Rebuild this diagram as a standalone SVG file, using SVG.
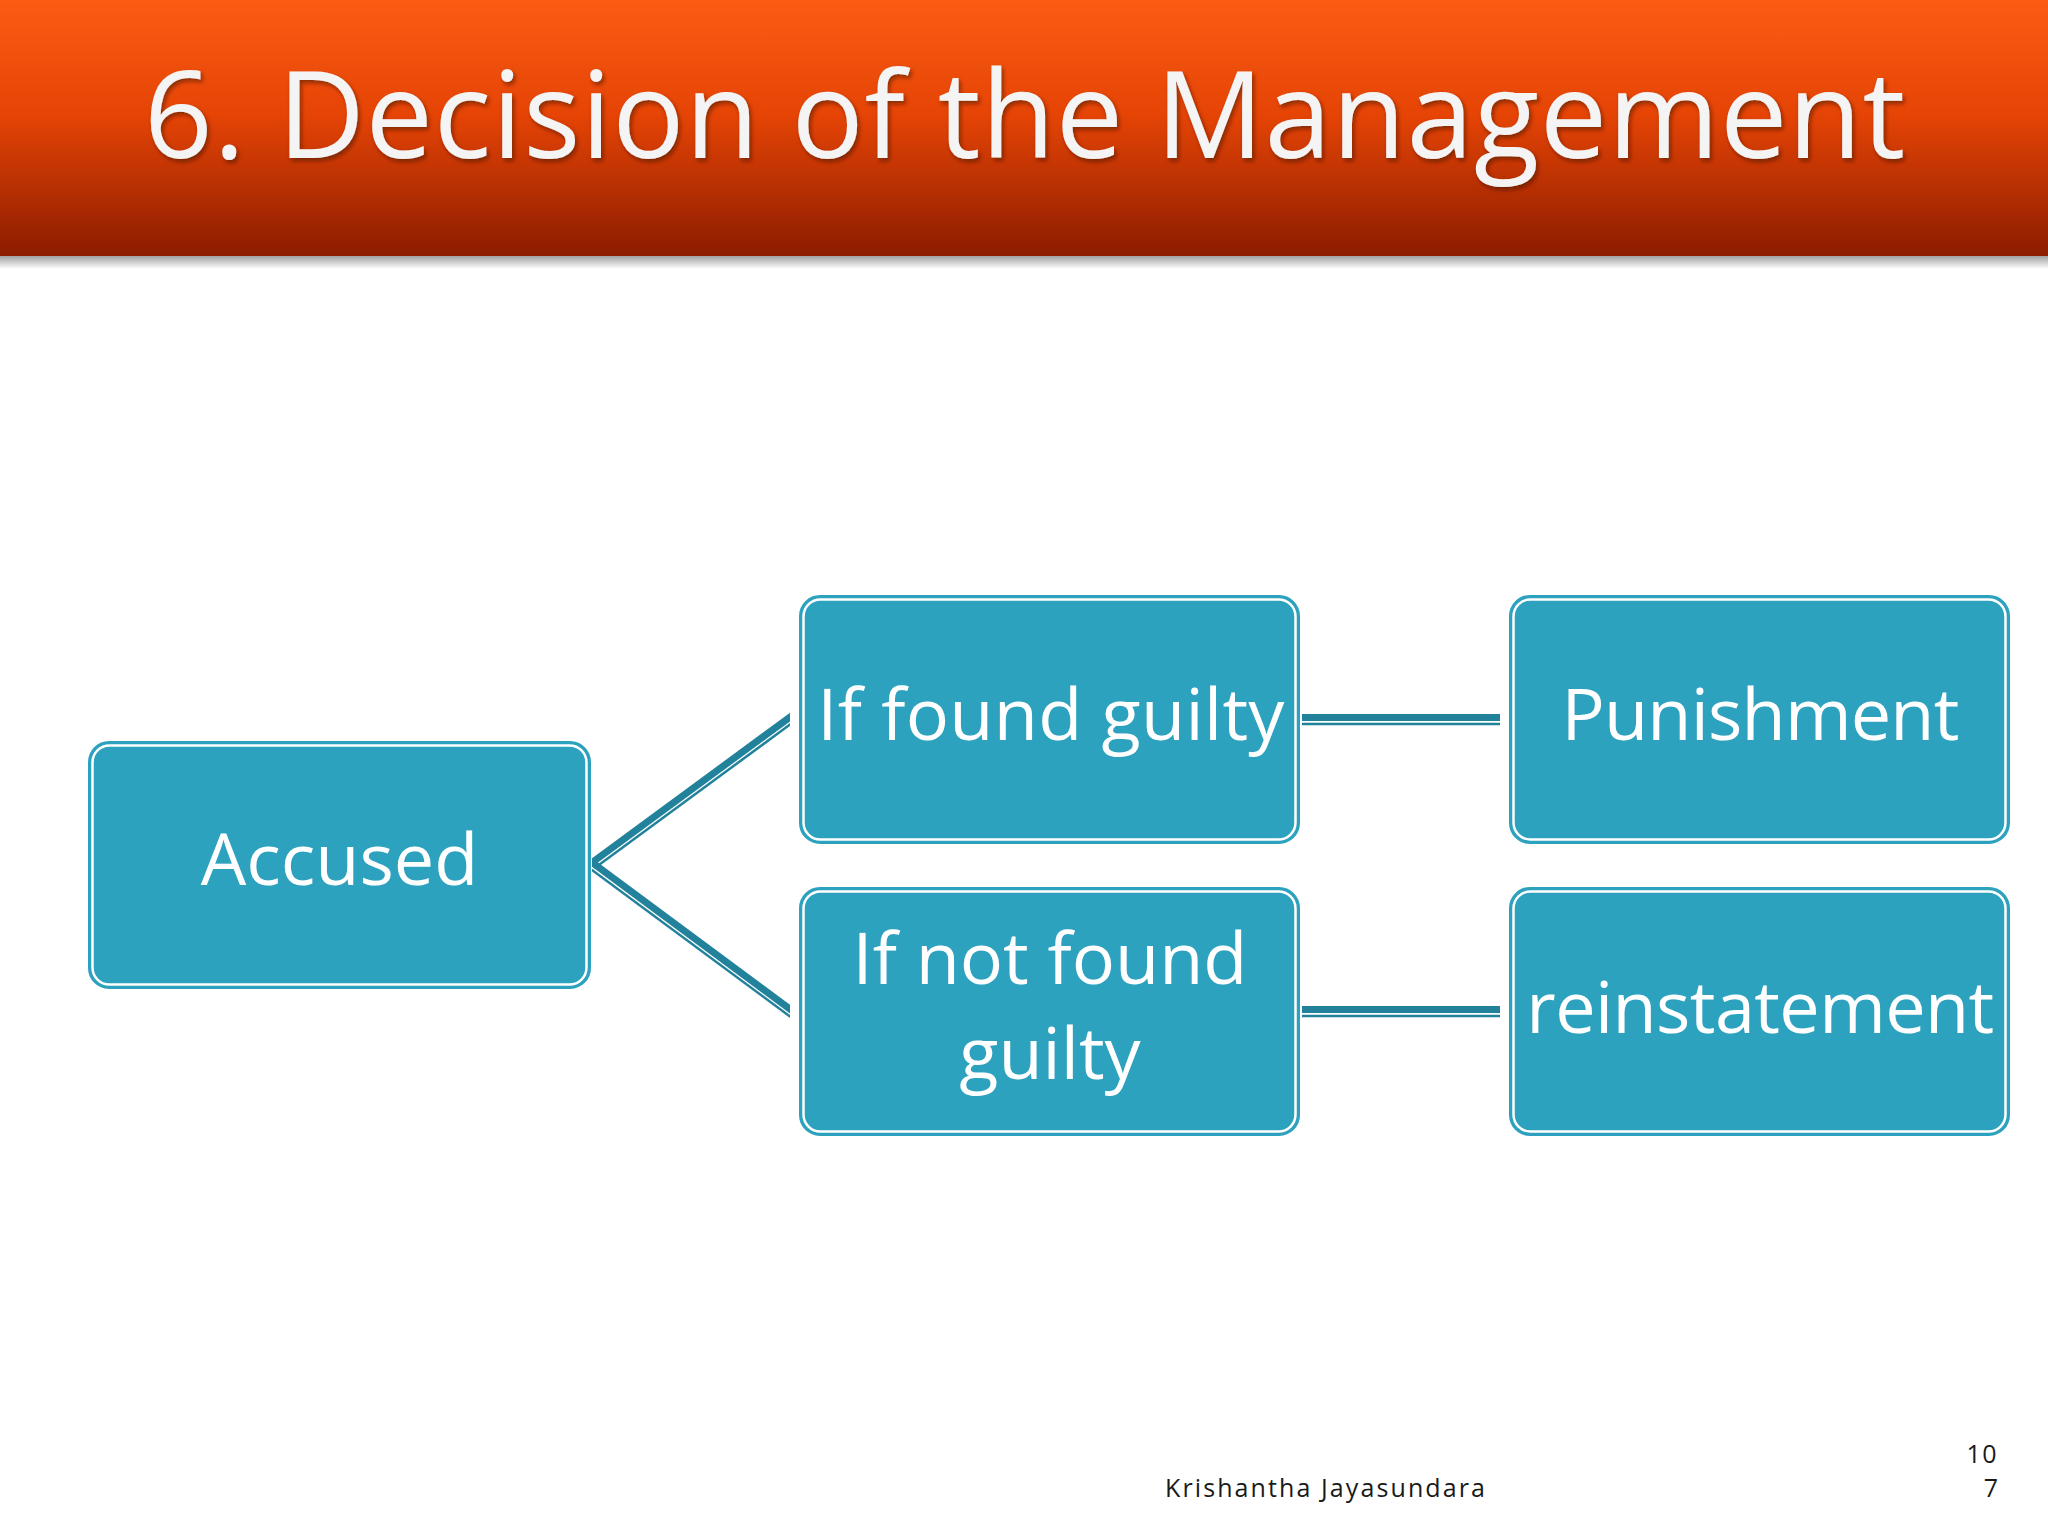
<svg xmlns="http://www.w3.org/2000/svg" width="2048" height="1536" viewBox="0 0 2048 1536">
  <defs>
    <linearGradient id="hdr" x1="0" y1="0" x2="0" y2="1">
      <stop offset="0" stop-color="#FB5C14"/>
      <stop offset="0.45" stop-color="#E54405"/>
      <stop offset="1" stop-color="#8C1C00"/>
    </linearGradient>
    <linearGradient id="hshadow" x1="0" y1="0" x2="0" y2="1">
      <stop offset="0" stop-color="#9a9a9a"/>
      <stop offset="1" stop-color="#ffffff"/>
    </linearGradient>
    <filter id="ts" x="-5%" y="-20%" width="110%" height="140%">
      <feDropShadow dx="2" dy="3" stdDeviation="2" flood-color="#3a1000" flood-opacity="0.55"/>
    </filter>
    <clipPath id="diagClip">
      <rect x="592" y="600" width="198" height="530"/>
    </clipPath>
    <style>
      .box { fill: #2DA2BF; stroke: #2DA2BF; stroke-width: 2; }
      .inner { fill: none; stroke: #ffffff; stroke-width: 2.5; }
      .lbl { font-family: "Open Sans", "DejaVu Sans", sans-serif; font-size: 72px; fill: #ffffff; text-anchor: middle; }
      .thick { stroke: #22829C; stroke-width: 7; fill: none; }
      .thin { stroke: #22829C; stroke-width: 2.5; fill: none; }
      .foot { font-family: "Open Sans", "DejaVu Sans", sans-serif; font-size: 25px; fill: #1a1a1a; }
    </style>
  </defs>

  <rect x="0" y="0" width="2048" height="1536" fill="#ffffff"/>

  <g id="header">
    <rect x="0" y="255" width="2048" height="14" fill="url(#hshadow)"/>
    <rect x="0" y="0" width="2048" height="256" fill="url(#hdr)"/>
    <text x="144" y="158" font-family="Open Sans, DejaVu Sans, sans-serif" font-size="120" letter-spacing="0.8" fill="#F4F4F4" filter="url(#ts)">6. Decision of the Management</text>
  </g>

  <g id="connectors">
    <g clip-path="url(#diagClip)">
      <g transform="translate(592,865) rotate(-36.3)">
        <line class="thick" x1="0" y1="-2" x2="260" y2="-2"/>
        <line class="thin" x1="0" y1="4" x2="260" y2="4"/>
      </g>
      <g transform="translate(592,865) rotate(36.5)">
        <line class="thick" x1="0" y1="-2" x2="260" y2="-2"/>
        <line class="thin" x1="0" y1="4" x2="260" y2="4"/>
      </g>
    </g>
    <line class="thick" x1="1302" y1="717.5" x2="1500" y2="717.5"/>
    <line class="thin" x1="1302" y1="724" x2="1500" y2="724"/>
    <line class="thick" x1="1302" y1="1009.5" x2="1500" y2="1009.5"/>
    <line class="thin" x1="1302" y1="1016" x2="1500" y2="1016"/>
  </g>

  <g id="node-accused">
    <rect class="box" x="89" y="742" width="501" height="246" rx="20"/>
    <rect class="inner" x="92.5" y="745.5" width="494" height="239" rx="17"/>
    <text class="lbl" x="339.5" y="885">Accused</text>
  </g>

  <g id="node-found-guilty">
    <rect class="box" x="800" y="596" width="499" height="247" rx="20"/>
    <rect class="inner" x="803.5" y="599.5" width="492" height="240" rx="17"/>
    <text class="lbl" x="1051" y="740" letter-spacing="0.3">If found guilty</text>
  </g>

  <g id="node-punishment">
    <rect class="box" x="1510" y="596" width="499" height="247" rx="20"/>
    <rect class="inner" x="1513.5" y="599.5" width="492" height="240" rx="17"/>
    <text class="lbl" x="1760" y="740" letter-spacing="-0.8">Punishment</text>
  </g>

  <g id="node-not-found-guilty">
    <rect class="box" x="800" y="888" width="499" height="247" rx="20"/>
    <rect class="inner" x="803.5" y="891.5" width="492" height="240" rx="17"/>
    <text class="lbl" x="1050" y="984">If not found</text>
    <text class="lbl" x="1050" y="1079">guilty</text>
  </g>

  <g id="node-reinstatement">
    <rect class="box" x="1510" y="888" width="499" height="247" rx="20"/>
    <rect class="inner" x="1513.5" y="891.5" width="492" height="240" rx="17"/>
    <text class="lbl" x="1760" y="1033" letter-spacing="-0.6">reinstatement</text>
  </g>

  <g id="footer">
    <text class="foot" x="1165" y="1497" letter-spacing="2.1">Krishantha Jayasundara</text>
    <text class="foot" x="1998" y="1463" text-anchor="end" letter-spacing="1.5">10</text>
    <text class="foot" x="1998" y="1497" text-anchor="end">7</text>
  </g>
</svg>
